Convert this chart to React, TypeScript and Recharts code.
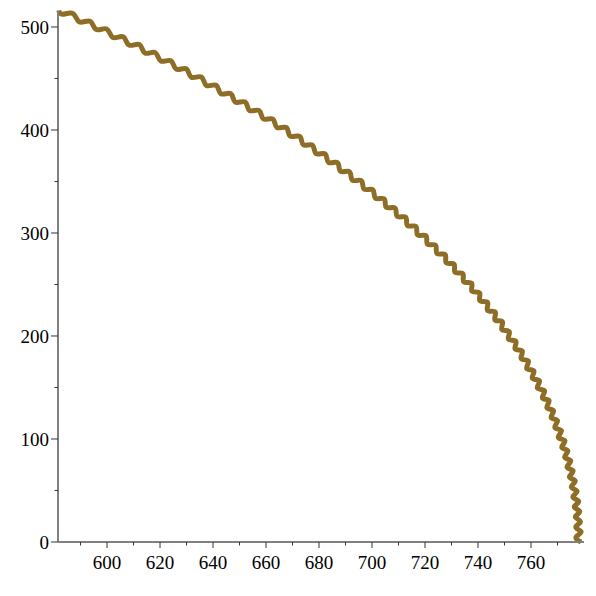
import React from "react";
import { LineChart, Line, XAxis, YAxis } from "recharts";

// curve: alternating outer / inner points of each wiggle
const curveX = [
  778.9, 777.0, 778.9, 776.9, 778.7, 776.7, 778.4, 776.3, 778.0, 775.8,
  777.4, 775.2, 776.7, 774.5, 775.9, 773.6, 775.0, 772.7, 773.9, 771.6,
  772.8, 770.3, 771.5, 769.0, 770.0, 767.6, 768.5, 766.0, 766.8, 764.3,
  765.1, 762.4, 763.2, 760.5, 761.1, 758.4, 759.0, 756.3, 756.7, 754.0,
  754.3, 751.5, 751.8, 749.0, 749.2, 746.4, 746.5, 743.6, 743.6, 740.7,
  740.6, 737.7, 737.6, 734.6, 734.3, 731.3, 731.0, 728.0, 727.6, 724.5,
  724.0, 720.9, 720.4, 717.2, 716.6, 713.4, 712.7, 709.5, 708.7, 705.4,
  704.6, 701.3, 700.3, 697.0, 696.0, 692.6, 691.5, 688.1, 687.0, 683.6,
  682.3, 678.9, 677.5, 674.1, 672.7, 669.1, 667.7, 664.1, 662.6, 659.0,
  657.4, 653.8, 652.1, 648.4, 646.7, 643.0, 641.2, 637.5, 635.6, 631.8,
  629.9, 626.1, 624.1, 620.3, 618.2, 614.3, 612.2, 608.3, 606.1, 602.2,
  599.9, 595.9, 593.6, 589.6, 587.2, 583.2, 581.8,
];

const curveY = [
  0.0, 4.8, 9.9, 14.5, 19.7, 24.2, 29.6, 33.9, 39.4, 43.6,
  49.2, 53.3, 59.1, 63.0, 68.9, 72.6, 78.7, 82.3, 88.5, 91.9,
  98.2, 101.6, 108.0, 111.2, 117.8, 120.8, 127.5, 130.4, 137.2, 139.9,
  146.8, 149.5, 156.5, 159.0, 166.1, 168.5, 175.7, 178.0, 185.3, 187.4,
  194.8, 196.9, 204.3, 206.2, 213.8, 215.6, 223.2, 224.9, 232.6, 234.2,
  242.0, 243.5, 251.3, 252.7, 260.6, 261.9, 269.8, 271.0, 279.0, 280.1,
  288.1, 289.2, 297.2, 298.2, 306.3, 307.2, 315.3, 316.1, 324.2, 325.0,
  333.1, 333.8, 342.0, 342.6, 350.8, 351.3, 359.5, 359.9, 368.2, 368.5,
  376.8, 377.1, 385.3, 385.6, 393.8, 394.0, 402.3, 402.4, 410.6, 410.7,
  418.9, 418.9, 427.2, 427.1, 435.3, 435.2, 443.4, 443.2, 451.5, 451.2,
  459.4, 459.1, 467.3, 466.9, 475.1, 474.7, 482.9, 482.4, 490.5, 489.9,
  498.1, 497.5, 505.6, 504.9, 513.0, 512.3, 516.0,
];

const xTicks = [590, 600, 610, 620, 630, 640, 650, 660, 670, 680, 690, 700, 710, 720, 730, 740, 750, 760, 770];
const xLabels = [600, 620, 640, 660, 680, 700, 720, 740, 760];
const yTicks = [0, 50, 100, 150, 200, 250, 300, 350, 400, 450, 500];
const yLabels = [0, 100, 200, 300, 400, 500];

const data = curveX.map((x, i) => ({ x, y: curveY[i] }));

const FONT = '"Liberation Serif", "Times New Roman", serif';
const AXIS = "#808080";

function XTick({ x, y, payload }: any) {
  const major = xLabels.includes(payload.value);
  return (
    <g>
      <line x1={x} y1={y} x2={x} y2={y + (major ? 6 : 3.5)} stroke="#333" strokeWidth={1} />
      {major && (
        <text x={x} y={y + 27} textAnchor="middle" fontFamily={FONT} fontSize={19} fill="#000">
          {payload.value}
        </text>
      )}
    </g>
  );
}

function YTick({ x, y, payload }: any) {
  const major = yLabels.includes(payload.value);
  return (
    <g>
      <line x1={x - (major ? 7 : 3.5)} y1={y} x2={x} y2={y} stroke="#333" strokeWidth={1} />
      {major && (
        <text x={x - 9} y={y + 7} textAnchor="end" fontFamily={FONT} fontSize={19} fill="#000">
          {payload.value}
        </text>
      )}
    </g>
  );
}

export default function App() {
  return (
    <LineChart width={580} height={580} data={data} margin={{ top: 2.5, right: 4, bottom: 0, left: 0 }}>
      <XAxis
        dataKey="x"
        type="number"
        domain={[581.5, 780]}
        ticks={xTicks}
        interval={0}
        height={46}
        tickSize={0}
        tickMargin={0}
        tickLine={false}
        axisLine={{ stroke: AXIS, strokeWidth: 2 }}
        tick={<XTick />}
      />
      <YAxis
        type="number"
        domain={[0, 516]}
        ticks={yTicks}
        interval={0}
        width={50}
        tickSize={0}
        tickMargin={0}
        tickLine={false}
        axisLine={{ stroke: AXIS, strokeWidth: 2 }}
        tick={<YTick />}
      />
      <Line
        dataKey="y"
        type="natural"
        stroke="#8e6e26"
        strokeWidth={5}
        dot={false}
        activeDot={false}
        isAnimationActive={false}
      />
    </LineChart>
  );
}
